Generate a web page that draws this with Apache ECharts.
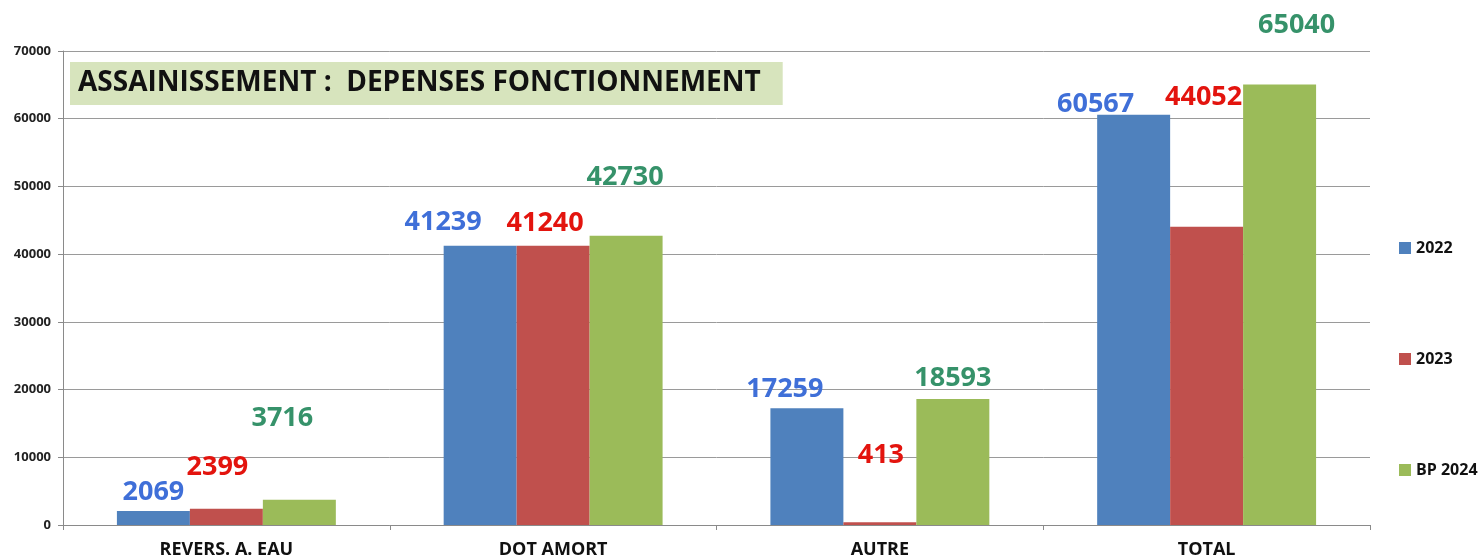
<!DOCTYPE html>
<html>
<head>
<meta charset="utf-8">
<script src="https://cdn.jsdelivr.net/npm/echarts@6/dist/echarts.min.js"></script>
<style>
  html, body { margin: 0; padding: 0; background: #fff; }
  #main { width: 1481px; height: 560px; }
</style>
</head>
<body>
<div id="main"></div>
<script>
// données
var categories = ['REVERS. A. EAU', 'DOT AMORT', 'AUTRE', 'TOTAL'];
var seriesNames = ['2022', '2023', 'BP 2024'];
var values2022 = [2069, 41239, 17259, 60567];
var values2023 = [2399, 41240, 413, 44052];
var valuesBP2024 = [3716, 42730, 18593, 65040];
var yMin = 0, yMax = 70000, yStep = 10000;

// décalage des étiquettes (placées à la main dans l'original)
var shift2022 = [[0, -5], [-37, -10], [-22, -5], [-38, 3]];
var shift2023 = [[-9, -28], [-8, -9], [1, -53], [-3, -116]];
var shiftBP2024 = [[-17, -68], [-1, -45], [0, -7], [17, -46]];

var barColors = ['#4f81bd', '#c0504d', '#9bbb59'];
var labelColors = ['#3f6fd8', '#e3140e', '#36926a'];
var font = '"Open Sans", "DejaVu Sans", sans-serif';

function buildData(values, shifts) {
    return values.map(function (v, i) {
        return { value: v, label: { offset: shifts[i] } };
    });
}

function buildSeries(name, values, shifts, idx) {
    return {
        name: name,
        type: 'bar',
        barGap: '0%',
        barCategoryGap: '33%',
        data: buildData(values, shifts),
        itemStyle: { color: barColors[idx] },
        label: {
            show: true,
            position: 'top',
            distance: 0,
            color: labelColors[idx],
            fontSize: 27,
            fontWeight: 'bold',
            fontFamily: font
        }
    };
}

var myChart = echarts.init(document.getElementById('main'));

var option = {
    animation: false,
    title: {
        text: 'ASSAINISSEMENT :  DEPENSES FONCTIONNEMENT',
        left: 70,
        top: 62,
        backgroundColor: '#d7e4bd',
        padding: [7, 22, 8, 8],
        textStyle: {
            color: '#111',
            fontSize: 28,
            fontWeight: 'bold',
            fontFamily: font
        }
    },
    legend: {
        orient: 'vertical',
        left: 1394,
        top: 235,
        itemWidth: 12,
        itemHeight: 12,
        itemGap: 95,
        icon: 'rect',
        data: seriesNames,
        textStyle: {
            color: '#111',
            fontSize: 16,
            fontWeight: 'bold',
            fontFamily: font
        }
    },
    grid: {
        left: 63,
        right: 111,
        top: 51,
        bottom: 35,
        containLabel: false,
        outerBoundsMode: 'none'
    },
    xAxis: {
        type: 'category',
        data: categories,
        axisLine: { lineStyle: { color: '#8a8a8a' } },
        axisTick: { show: true, length: 5, lineStyle: { color: '#8a8a8a' } },
        axisLabel: {
            color: '#111',
            fontSize: 18,
            fontWeight: 'bold',
            fontFamily: font,
            margin: 16
        }
    },
    yAxis: {
        type: 'value',
        min: yMin,
        max: yMax,
        interval: yStep,
        axisLine: { show: true, lineStyle: { color: '#8a8a8a' } },
        axisTick: { show: true, length: 5, lineStyle: { color: '#8a8a8a' } },
        splitLine: { lineStyle: { color: '#9a9a9a' } },
        axisLabel: {
            color: '#222',
            fontSize: 13,
            fontWeight: 'bold',
            fontFamily: font,
            margin: 12,
            formatter: function (v) { return String(v); }
        }
    },
    series: [
        buildSeries(seriesNames[0], values2022, shift2022, 0),
        buildSeries(seriesNames[1], values2023, shift2023, 1),
        buildSeries(seriesNames[2], valuesBP2024, shiftBP2024, 2)
    ]
};

myChart.setOption(option);
</script>
</body>
</html>
